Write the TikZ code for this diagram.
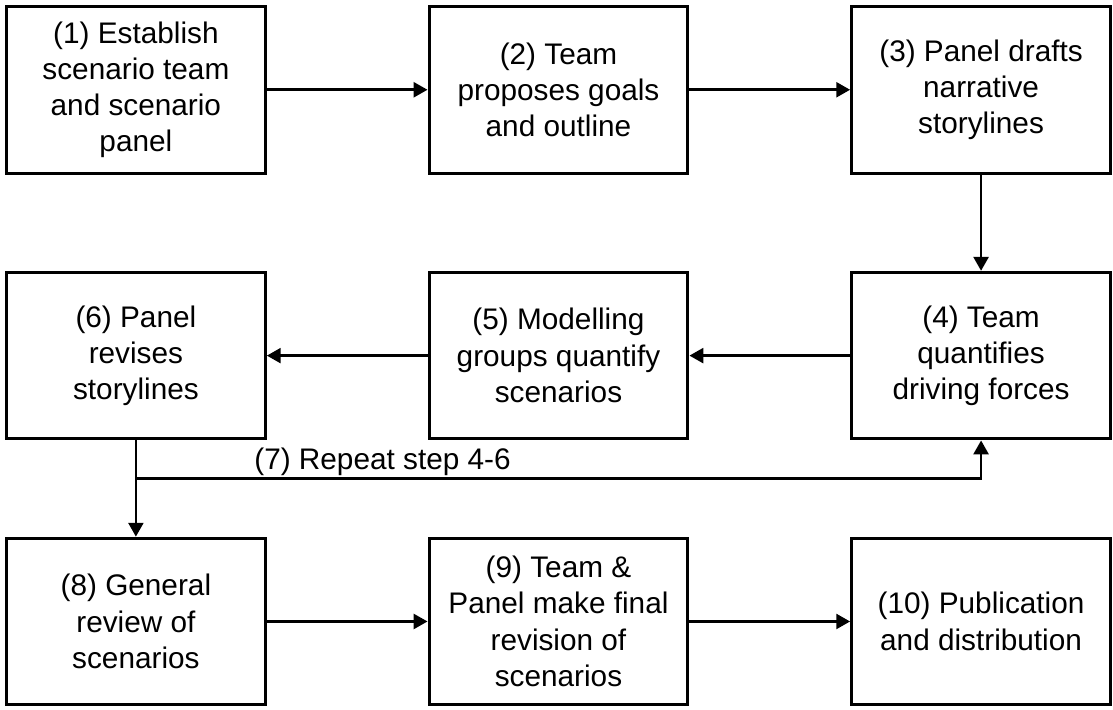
\documentclass[tikz,border=0pt]{standalone}
\usepackage{fontspec}
\setmainfont{Liberation Sans}
\usetikzlibrary{arrows.meta, positioning, calc}

\begin{document}
\begin{tikzpicture}[
      node distance=48.5pt and 81pt,
      stepbox/.style={rectangle, draw, line width=1.5pt, minimum width=130.5pt,
        minimum height=84pt, align=center, inner sep=2pt,
        font=\fontsize{15pt}{18.3pt}\selectfont},
      flow/.style={line width=1.4pt, -{Triangle[length=7pt, width=7.5pt]}}
    ]
      % first row, left to right
      \node[stepbox] (s1) {(1) Establish\\scenario team\\and scenario\\panel};
      \node[stepbox, right=of s1] (s2) {(2) Team\\proposes goals\\and outline};
      \node[stepbox, right=of s2] (s3) {(3) Panel drafts\\narrative\\storylines};
      % second row, right to left
      \node[stepbox, below=of s3] (s4) {(4) Team\\quantifies\\driving forces};
      \node[stepbox, left=of s4] (s5) {(5) Modelling\\groups quantify\\scenarios};
      \node[stepbox, left=of s5] (s6) {(6) Panel\\revises\\storylines};
      % third row
      \node[stepbox, below=of s6] (s8) {(8) General\\review of\\scenarios};
      \node[stepbox, right=of s8] (s9) {(9) Team \&\\Panel make final\\revision of\\scenarios};
      \node[stepbox, right=of s9] (s10) {(10) Publication\\and distribution};

      \draw[flow] (s1) -- (s2);
      \draw[flow] (s2) -- (s3);
      \draw[flow] (s3) -- (s4);
      \draw[flow] (s4) -- (s5);
      \draw[flow] (s5) -- (s6);
      \draw[flow] (s6) -- (s8);
      \draw[flow] (s8) -- (s9);
      \draw[flow] (s9) -- (s10);

      % loop back for step 7
      \coordinate (j) at ($(s6.south)+(0,-19pt)$);
      \draw[flow] (j) -| (s4.south);
      \node[anchor=south west, inner sep=1pt, font=\fontsize{15pt}{17pt}\selectfont]
        (rep) at ($(j)+(58.5pt,0)$) {(7) Repeat step 4-6};

      \useasboundingbox ($(s1.north west)+(-2.5pt,2.5pt)$) rectangle ($(s10.south east)+(0.5pt,-1.5pt)$);
    \end{tikzpicture}
\end{document}
